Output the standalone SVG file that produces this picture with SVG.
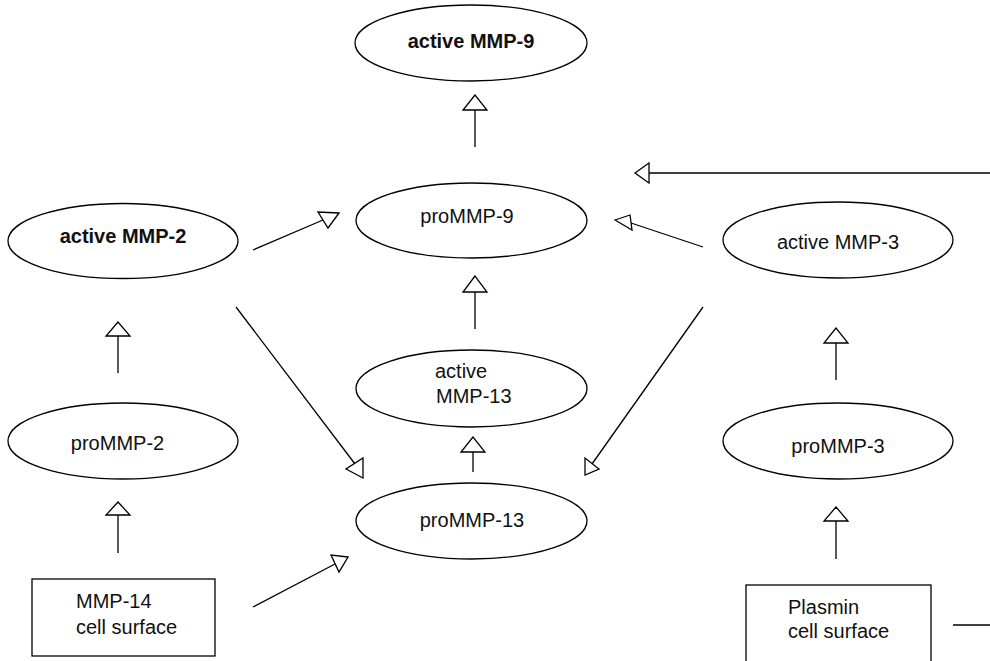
<svg xmlns="http://www.w3.org/2000/svg" width="990" height="661" viewBox="0 0 990 661">
<style>
.n{fill:#fff;stroke:#000;stroke-width:1.3}
.t{font-family:"Liberation Sans",Arial,sans-serif;font-size:20px;fill:#111}
.b{font-weight:bold}
.c{text-anchor:middle}
.l{stroke:#000;stroke-width:1.3;fill:none}
.h{fill:#fff;stroke:#000;stroke-width:1.3;stroke-linejoin:miter}
</style>
<rect width="990" height="661" fill="#fff"/>
<g id="connectors">
<line class="l" x1="475" y1="147" x2="475" y2="110"/><polygon class="h" points="475,95 463,110 487,110"/>
<line class="l" x1="990" y1="173" x2="649" y2="173"/><polygon class="h" points="635,173 649,163 649,183"/>
<line class="l" x1="703" y1="247" x2="631" y2="223"/><polygon class="h" points="615,220 630,215 632,230"/>
<line class="l" x1="253" y1="250" x2="323" y2="220"/><polygon class="h" points="339,213 318,212 328,228"/>
<line class="l" x1="475" y1="329" x2="475" y2="292"/><polygon class="h" points="475,276 463,292 487,292"/>
<line class="l" x1="473" y1="472" x2="473" y2="452"/><polygon class="h" points="473,437 461,452 485,452"/>
<line class="l" x1="236" y1="307" x2="355" y2="464"/><polygon class="h" points="363,478 346,469 363,458"/>
<line class="l" x1="703" y1="307" x2="592" y2="464"/><polygon class="h" points="585,475 585,458 599,469"/>
<line class="l" x1="253" y1="607" x2="335" y2="564"/><polygon class="h" points="348,557 331,555 339,572"/>
<line class="l" x1="118" y1="373" x2="118" y2="336"/><polygon class="h" points="118,322 106,336 130,336"/>
<line class="l" x1="118" y1="553" x2="118" y2="515"/><polygon class="h" points="118,502 106,515 130,515"/>
<line class="l" x1="836" y1="380" x2="836" y2="343"/><polygon class="h" points="836,328 824,343 848,343"/>
<line class="l" x1="836" y1="559" x2="836" y2="521"/><polygon class="h" points="836,507 824,521 848,521"/>
<line class="l" x1="953" y1="625" x2="990" y2="625"/>
</g>
<g id="activeMMP9"><ellipse class="n" cx="471" cy="43" rx="116" ry="38"/><text class="t b c" x="471" y="48">active MMP-9</text></g>
<g id="proMMP9"><ellipse class="n" cx="471.5" cy="220.5" rx="115.5" ry="37.5"/><text class="t c" x="467" y="223">proMMP-9</text></g>
<g id="activeMMP2"><ellipse class="n" cx="123" cy="241" rx="115" ry="37.5"/><text class="t b c" x="123" y="243">active MMP-2</text></g>
<g id="activeMMP3"><ellipse class="n" cx="838" cy="240" rx="115" ry="38"/><text class="t c" x="838" y="249">active MMP-3</text></g>
<g id="activeMMP13"><ellipse class="n" cx="471.5" cy="388.5" rx="115.5" ry="38.5"/><text class="t" x="435" y="378">active</text><text class="t" x="436" y="403">MMP-13</text></g>
<g id="proMMP2"><ellipse class="n" cx="123" cy="441" rx="115" ry="38"/><text class="t c" x="117.5" y="450">proMMP-2</text></g>
<g id="proMMP3"><ellipse class="n" cx="838" cy="441" rx="115" ry="38"/><text class="t c" x="838" y="453">proMMP-3</text></g>
<g id="proMMP13"><ellipse class="n" cx="471.5" cy="521" rx="115.5" ry="38"/><text class="t c" x="472" y="527">proMMP-13</text></g>
<g id="MMP14"><rect class="n" x="32" y="579" width="183" height="77"/><text class="t" x="76" y="608">MMP-14</text><text class="t" x="76" y="634">cell surface</text></g>
<g id="plasmin"><rect class="n" x="746" y="585" width="185" height="90"/><text class="t" x="788" y="614">Plasmin</text><text class="t" x="788" y="638">cell surface</text></g>
</svg>
